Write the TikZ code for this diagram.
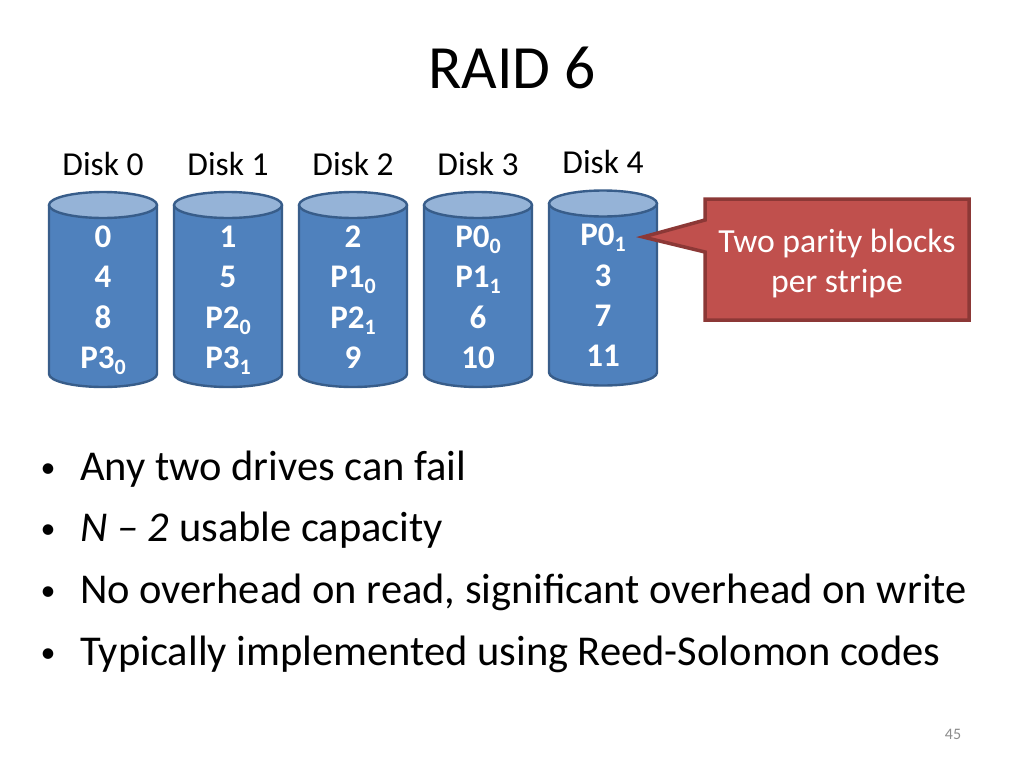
\documentclass[tikz,border=0pt]{standalone}
\usepackage{fontspec}
\setmainfont{Carlito}
\definecolor{cylfill}{HTML}{4F81BD}
\definecolor{cylline}{HTML}{385D8A}
\definecolor{cyltop}{HTML}{95B3D7}
\definecolor{callfill}{HTML}{C0504D}
\definecolor{callline}{HTML}{8C3836}
\definecolor{pagegray}{HTML}{8C8C8C}
\newcommand\lowsub[1]{\raisebox{-6pt}{\fontsize{22}{24}\selectfont #1}}
\tikzset{
  cyledge/.style={draw=cylline, line width=2.4pt},
  disklabel/.style={anchor=base, font=\fontsize{33.5}{40}\selectfont, inner sep=0pt},
  cyltext/.style={anchor=base, text=white, font=\fontsize{33}{38}\selectfont\bfseries, inner sep=0pt},
  calltext/.style={anchor=base, text=white, font=\fontsize{33.7}{40}\selectfont, inner sep=0pt},
  bullettext/.style={anchor=base west, font=\fontsize{42.5}{50}\selectfont, inner sep=0pt},
  bulletdot/.style={anchor=base, font=\fontsize{30}{36}\selectfont, inner sep=0pt},
}
\begin{document}
\begin{tikzpicture}[x=1pt,y=-1pt]
\useasboundingbox (0,0) rectangle (1024,768);
\fill[white] (0,0) rectangle (1024,768);

\node[anchor=base, inner sep=0pt, font=\fontsize{61.5}{70}\selectfont] (title) at (512,88) {RAID 6};

% cylinders
\foreach \cx/\i/\dy/\ra/\rb/\rc/\rd in {
  103/0/0/0/4/8/P3\lowsub{0},
  228/1/0/1/5/P2\lowsub{0}/P3\lowsub{1},
  353/2/0/2/P1\lowsub{0}/P2\lowsub{1}/9,
  478/3/0/P0\lowsub{0}/P1\lowsub{1}/6/10,
  603/4/-1.5/P0\lowsub{1}/3/7/11} {
  \fill[cylfill] (\cx-54,205+\dy) rectangle (\cx+54,374+\dy);
  \fill[cylfill] (\cx,374+\dy) ellipse[x radius=54, y radius=13];
  \draw[cyledge] (\cx-54,205+\dy) -- (\cx-54,374+\dy) arc[start angle=180, end angle=0, x radius=54, y radius=13] -- (\cx+54,205+\dy);
  \draw[cyledge, fill=cyltop] (\cx,205+\dy) ellipse[x radius=54, y radius=13];
  \node[disklabel] (lab\i) at (\cx,175+\dy) {Disk \i};
  \node[cyltext] (d\i a) at (\cx,247+\dy) {\ra};
  \node[cyltext] (d\i b) at (\cx,287.5+\dy) {\rb};
  \node[cyltext] (d\i c) at (\cx,328+\dy) {\rc};
  \node[cyltext] (d\i d) at (\cx,368+\dy) {\rd};
}

% callout
\draw[fill=callfill, draw=callline, line width=3.5pt, line join=miter]
  (705,199) -- (969,199) -- (969,320) -- (705,320) -- (705,252) -- (643,237) -- (705,220) -- cycle;
\node[calltext] (call1) at (837,252) {Two parity blocks};
\node[calltext] (call2) at (837,292) {per stripe};

% bullets
\foreach \y/\n/\t in {
  480/b1/Any two drives can fail,
  541/b2/{\textit{N} \textit{–} \textit{2} usable capacity},
  603/b3/{No overhead on read, significant overhead on write},
  665/b4/Typically implemented using Reed-Solomon codes} {
  \node[bulletdot] (\n dot) at (48,\y-3) {•};
  \node[bullettext] (\n) at (80,\y) {\t};
}

\node[anchor=base, inner sep=0pt, text=pagegray, font=\fontsize{16}{19}\selectfont] (page) at (953,739) {45};
\end{tikzpicture}
\end{document}
